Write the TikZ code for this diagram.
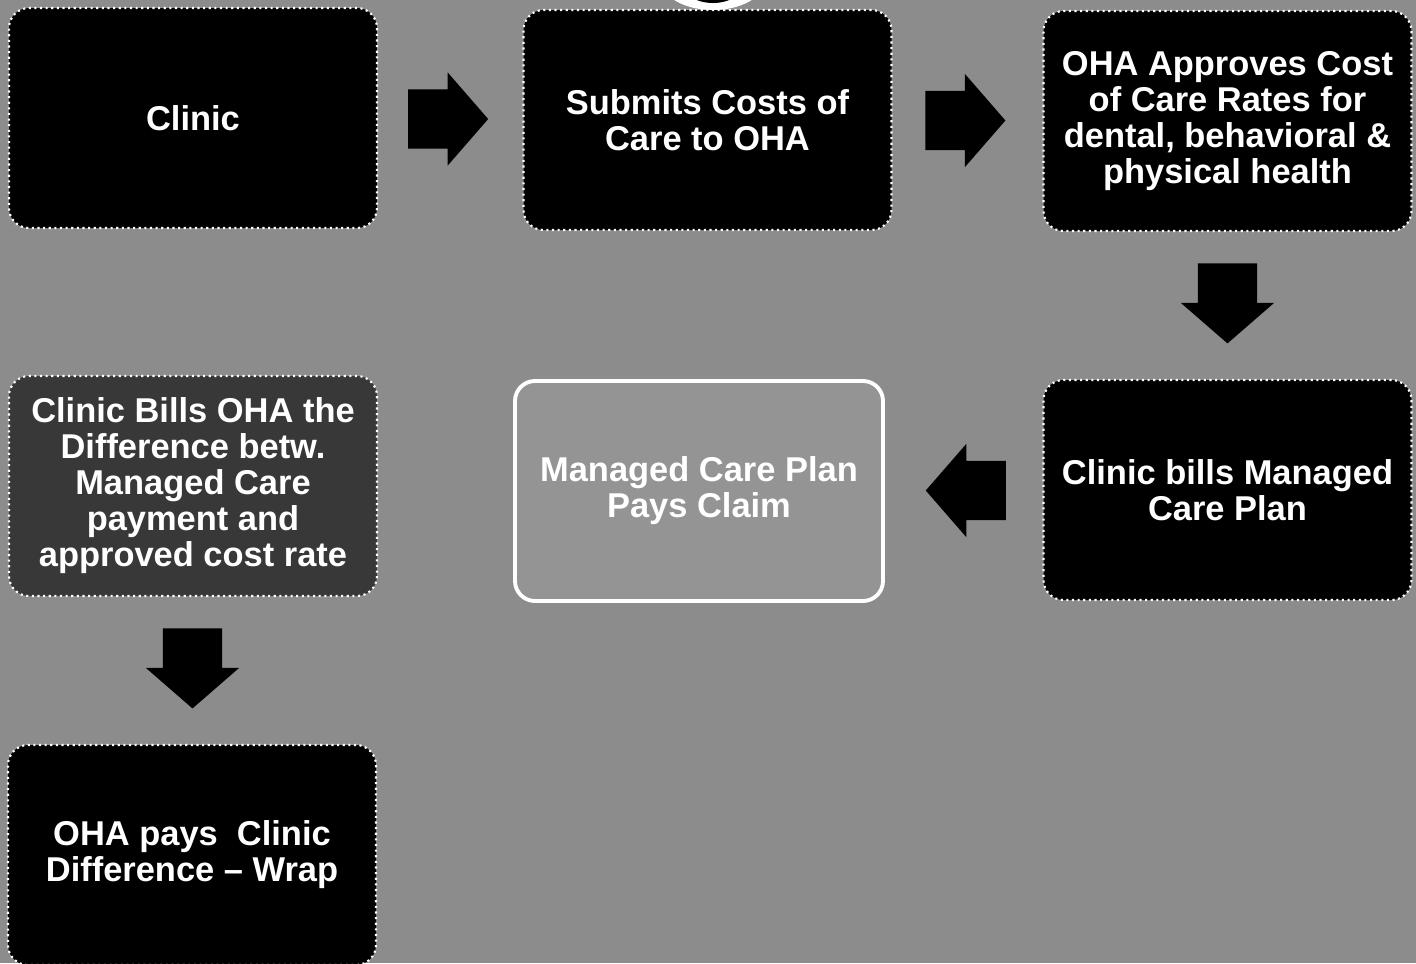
\documentclass[tikz,border=0pt]{standalone}
\usepackage{fontspec}
\setmainfont{Liberation Sans}
\usetikzlibrary{shapes.arrows,calc}

\tikzset{
  stepbox/.style={rectangle, rounded corners=0.2cm, fill=black, draw=white, densely dotted,
    line width=0.6pt, text=white, align=center, inner sep=0pt,
    font=\bfseries\fontsize{9.8}{10.25}\selectfont,
    minimum width=3.68cm, minimum height=2.2cm},
  paidbox/.style={stepbox, fill=black!42, solid, line width=1.1pt},
  darkbox/.style={stepbox, fill=black!78},
  blockarrow/.style={single arrow, fill=black, draw=none, inner xsep=0pt, inner ysep=0.29cm,
    single arrow head extend=0.17cm, single arrow tip angle=98, minimum height=0.8cm}
}

\begin{document}
\begin{tikzpicture}
  \useasboundingbox (0,-9.63) rectangle (14.16,0);
  \clip (0,-9.63) rectangle (14.16,0);
  \fill [black!45] (0,-9.63) rectangle (14.16,0);

  % ring cut by the top edge
  \fill [white] (7.13,0.2) ellipse (0.52 and 0.30);
  \fill [black] (7.13,0.2) ellipse (0.33 and 0.23);

  % top row
  \node [stepbox] (clinic)   at (1.93,-1.18)  {Clinic};
  \node [stepbox] (submits)  at (7.075,-1.20) {Submits Costs of\\Care to OHA};
  \node [stepbox] (approves) at (12.275,-1.21) {OHA Approves Cost\\of Care Rates for\\dental, behavioral \&\\physical health};

  % middle row
  \node [stepbox] (billsmcp) at (12.275,-4.90) {Clinic bills Managed\\Care Plan};
  \node [paidbox] (pays)     at (6.99,-4.91)  {Managed Care Plan\\Pays Claim};
  \node [darkbox] (billsoha) at (1.93,-4.86)  {Clinic Bills OHA the\\Difference betw.\\Managed Care\\payment and\\approved cost rate};

  % bottom row
  \node [stepbox] (wrap)     at (1.92,-8.55)  {OHA pays\ \ Clinic\\Difference -- Wrap};

  % arrows between the steps
  \node [blockarrow] (a1) at ($(clinic.east)!0.5!(submits.west)+(-0.15,0)$) {};
  \node [blockarrow] (a2) at ($(submits.east)!0.5!(approves.west)+(-0.15,0)$) {};
  \node [blockarrow, rotate=-90] (a3) at ($(approves.south)!0.5!(billsmcp.north)+(0,0.15)$) {};
  \node [blockarrow, rotate=180] (a4) at ($(billsmcp.west)!0.5!(pays.east)+(0.15,0)$) {};
  \node [blockarrow, rotate=-90] (a5) at ($(billsoha.south)!0.5!(wrap.north)+(0,0.15)$) {};

\end{tikzpicture}
\end{document}
